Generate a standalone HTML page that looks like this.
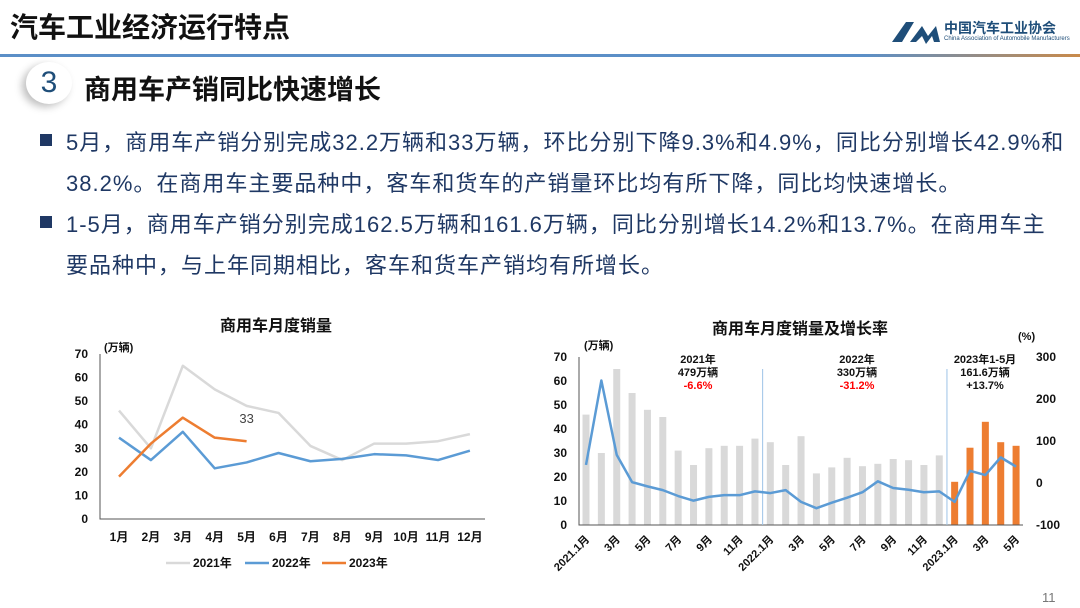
<!DOCTYPE html>
<html><head><meta charset="utf-8">
<style>
body{margin:0;width:1080px;height:608px;overflow:hidden;background:#fff;font-family:"Liberation Sans","Noto Sans CJK SC",sans-serif;position:relative}
.abs{position:absolute;white-space:nowrap}
.title{left:10px;top:6px;font-size:28px;font-weight:bold;color:#111}
.rule{left:0;top:54px;width:1080px;height:3px;background:linear-gradient(90deg,#5b8fc7 0%,#5b8fc7 80%,#c98a4a 100%)}
.circ{left:26px;top:62px;width:46px;height:42px;border-radius:50%;background:#fff;box-shadow:-4px 3px 8px rgba(0,0,0,.25);font-size:30px;color:#1f4e79;text-align:center;line-height:42px}
.h2{left:84px;top:68px;font-size:27px;font-weight:bold;color:#111}
.p{font-size:22px;letter-spacing:1px;color:#1f3864;left:66px}
.bul{left:40px;width:12px;height:12px;background:#1f3864}
</style></head><body>
<div class="abs title">汽车工业经济运行特点</div>
<div class="abs rule"></div>
<div class="abs" style="left:888px;top:18px;">
<svg width="56" height="28"><path d="M4 24 L18 4 L26 4 L14 24 Z" fill="#1f4e79"/><path d="M22 24 L34 8 L40 18 L48 8 L52 24 L46 24 L44 18 L38 26 L34 18 L28 24Z" fill="#1f4e79"/></svg>
<div class="abs" style="left:56px;top:0;font-size:14px;font-weight:bold;color:#1f4e79">中国汽车工业协会</div>
<div class="abs" style="left:56px;top:18px;font-size:6px;color:#1f4e79">China Association of Automobile Manufacturers</div>
</div>
<div class="abs circ">3</div>
<div class="abs h2">商用车产销同比快速增长</div>
<div class="abs bul" style="top:134px"></div>
<div class="abs p" style="top:125px">5月，商用车产销分别完成32.2万辆和33万辆，环比分别下降9.3%和4.9%，同比分别增长42.9%和</div>
<div class="abs p" style="top:166px">38.2%。在商用车主要品种中，客车和货车的产销量环比均有所下降，同比均快速增长。</div>
<div class="abs bul" style="top:216px"></div>
<div class="abs p" style="top:207px">1-5月，商用车产销分别完成162.5万辆和161.6万辆，同比分别增长14.2%和13.7%。在商用车主</div>
<div class="abs p" style="top:248px">要品种中，与上年同期相比，客车和货车产销均有所增长。</div>
<div class="abs" style="left:1042px;top:590px;font-size:13px;color:#777">11</div>

<svg id="c1" class="abs" style="left:0;top:0" width="1080" height="608"></svg>
<script>
const months=["1月","2月","3月","4月","5月","6月","7月","8月","9月","10月","11月","12月"];
const s2021=[46,30,65,55,48,45,31,25,32,32,33,36];
const s2022=[34.5,25,37,21.5,24,28,24.5,25.5,27.5,27,25,29];
const s2023=[18,32,43,34.5,33];
const leftTicks=[0,10,20,30,40,50,60,70];
const barVals=[46,30,65,55,48,45,31,25,32,33,33,36,34.5,25,37,21.5,24,28,24.5,25.5,27.5,27,25,29,18,32.2,43,34.5,33];
const growth=[43,244,67,2,-8,-17,-31,-42,-33,-29,-29,-20,-24,-17,-45,-60,-47,-35,-22,4,-12,-16,-22,-20,-45,29,19,61,39];
const xLabels=["2021.1月","3月","5月","7月","9月","11月","2022.1月","3月","5月","7月","9月","11月","2023.1月","3月","5月"];
const rightTicks=[-100,0,100,200,300];
const NS="http://www.w3.org/2000/svg";
const svg=document.getElementById('c1');
function mk(t,a,txt){const e=document.createElementNS(NS,t);for(const k in a)e.setAttribute(k,a[k]);if(txt!=null)e.textContent=txt;svg.appendChild(e);return e;}
const F='"Liberation Sans","Noto Sans CJK SC",sans-serif';
const x1=i=>119+i*31.9, y1=v=>519-v*165/70;
let e=mk('text',{x:276,y:331,'text-anchor':'middle','font-size':16,'font-weight':'bold','font-family':F,fill:'#111'},'商用车月度销量');


e=mk('text',{x:104,y:351,'font-size':11,'font-weight':'bold','font-family':F,fill:'#111'},'(万辆)');


leftTicks.forEach(v=>{const t=mk('text',{x:88,y:y1(v)+4,'text-anchor':'end','font-size':12,'font-weight':'bold','font-family':F,fill:'#111'},v);

});
e=mk('path',{d:`M100 354 V519 H485`,stroke:'#555',fill:'none','stroke-width':1});


months.forEach((m,i)=>{const t=mk('text',{x:x1(i),y:541,'text-anchor':'middle','font-size':12,'font-weight':'bold','font-family':F,fill:'#111'},m);

});
function line(arr,xf,yf,col,w,name){const p=mk('polyline',{points:arr.map((v,i)=>xf(i)+','+yf(v)).join(' '),fill:'none',stroke:col,'stroke-width':w,'stroke-linejoin':'round'});

}
line(s2021,x1,y1,'#d9d9d9',2.5,'series-2021');
line(s2022,x1,y1,'#5b9bd5',2.5,'series-2022');
line(s2023,x1,y1,'#ed7d31',2.5,'series-2023');
e=mk('text',{x:x1(4),y:y1(s2023[4])-18,'text-anchor':'middle','font-size':13,'font-family':F,fill:'#444'},s2023[4]);


[["2021年",'#d9d9d9',166],["2022年",'#5b9bd5',245],["2023年",'#ed7d31',322]].forEach(([l,c,x])=>{
const g=mk('line',{x1:x,y1:563,x2:x+24,y2:563,stroke:c,'stroke-width':2.5});


const t=mk('text',{x:x+27,y:567,'font-size':12,'font-weight':'bold','font-family':F,fill:'#111'},l);

});
const x2=i=>586+i*15.36, y2=v=>525-v*168/70, yr=v=>483-v*0.42;
e=mk('text',{x:800,y:334,'text-anchor':'middle','font-size':16,'font-weight':'bold','font-family':F,fill:'#111'},'商用车月度销量及增长率');


e=mk('text',{x:584,y:349,'font-size':11,'font-weight':'bold','font-family':F,fill:'#111'},'(万辆)');


e=mk('text',{x:1018,y:340,'font-size':11,'font-weight':'bold','font-family':F,fill:'#111'},'(%)');


leftTicks.forEach(v=>{const t=mk('text',{x:567,y:y2(v)+4,'text-anchor':'end','font-size':12,'font-weight':'bold','font-family':F,fill:'#111'},v);

});
rightTicks.forEach(v=>{const t=mk('text',{x:1036,y:yr(v)+4,'font-size':12,'font-weight':'bold','font-family':F,fill:'#111'},v);

});
barVals.forEach((v,i)=>{const b=mk('rect',{x:x2(i)-3.5,y:y2(v),width:7,height:525-y2(v),fill:i>=24?'#ed7d31':'#d9d9d9'});

});
e=mk('path',{d:`M579 357 V525 H1023`,stroke:'#555',fill:'none','stroke-width':1});


[11.5,23.5].forEach(k=>{const s=mk('line',{x1:x2(k),y1:369,x2:x2(k),y2:525,stroke:'#9dc3e6','stroke-width':1});

});
line(growth,x2,yr,'#5b9bd5',2.5,'growth-line');
xLabels.forEach((l,k)=>{const x=x2(k*2);const t=mk('text',{x:x+4,y:540,'text-anchor':'end','font-size':11,'font-weight':'bold','font-family':F,fill:'#111',transform:`rotate(-45 ${x+4} 540)`},l);

});
[[698,["2021年","479万辆","-6.6%"]],[857,["2022年","330万辆","-31.2%"]],[985,["2023年1-5月","161.6万辆","+13.7%"]]].forEach(([x,ls])=>{
ls.forEach((l,j)=>{const t=mk('text',{x:x,y:363+j*13,'text-anchor':'middle','font-size':11,'font-weight':'bold','font-family':F,fill:(j==2&&l[0]=='-')?'#ff0000':'#111'},l);

});});
</script>
</body></html>
